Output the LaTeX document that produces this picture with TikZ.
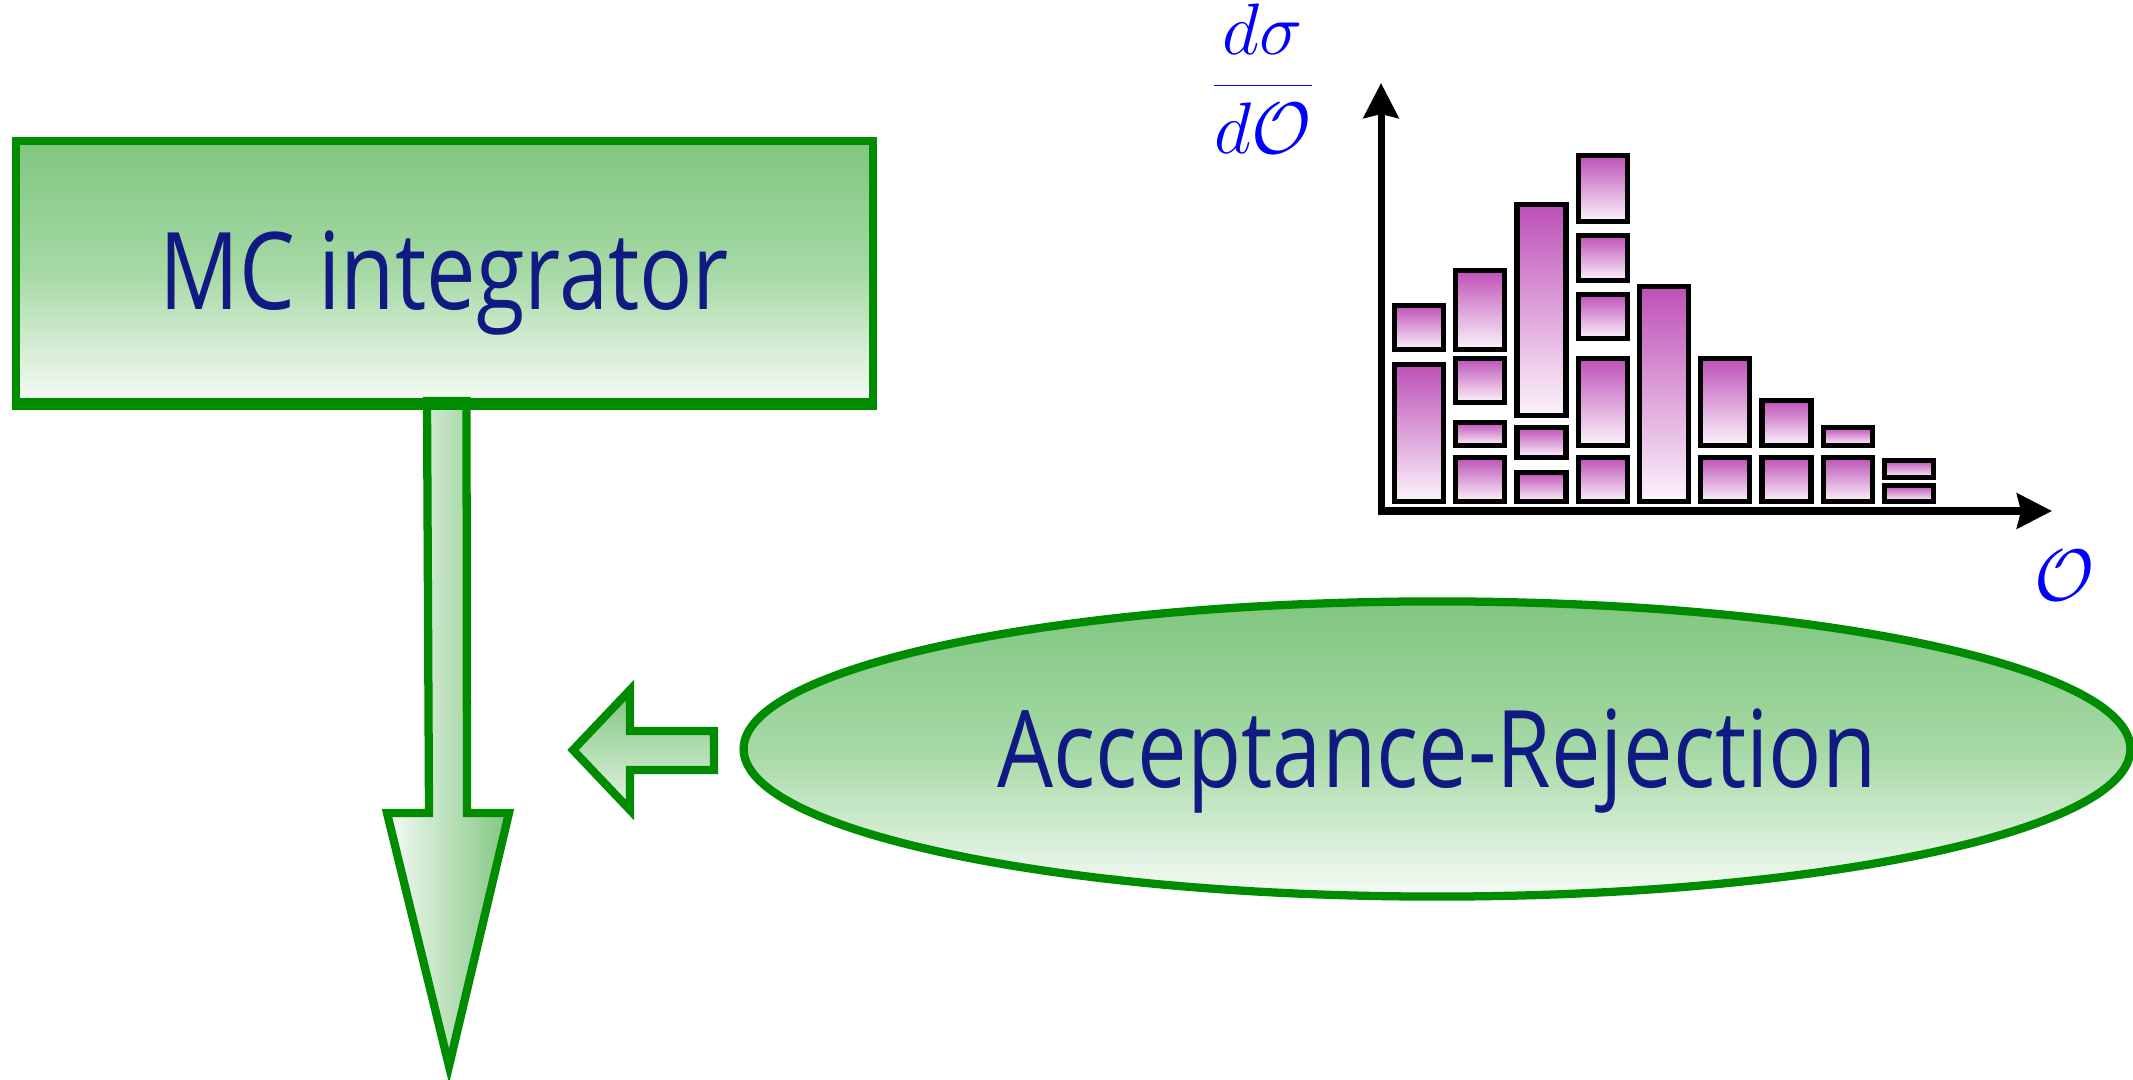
\documentclass[tikz,border=0pt]{standalone}
\usepackage{fontspec}
\setmainfont{Open Sans}[FakeStretch=0.825]
\usetikzlibrary{arrows.meta,shapes.geometric}
\definecolor{gborder}{RGB}{0,140,0}
\definecolor{gtop}{RGB}{128,198,128}
\definecolor{gmid}{RGB}{165,217,165}
\definecolor{gbot}{RGB}{246,251,246}
\definecolor{mtop}{RGB}{190,80,184}
\definecolor{mbot}{RGB}{252,244,251}
\definecolor{txtblue}{RGB}{16,26,130}
\definecolor{mathblue}{RGB}{0,0,255}
\tikzset{
  greenbox/.style={draw=gborder, line width=2.35pt, top color=gtop, bottom color=gbot, middle color=gmid},
  greenarrow/.style={draw=gborder, line width=2.35pt},
  bigtext/.style={text=txtblue, font=\fontsize{30.5}{36}\selectfont, text height=0.766cm, text depth=0pt, inner sep=0pt},
  histbox/.style={draw=black, line width=1.45pt, top color=mtop, bottom color=mbot},
  axisline/.style={draw=black, line width=2pt, -{Stealth[length=0.35cm, width=0.35cm, inset=0.04cm]}},
  mathlabel/.style={text=mathblue, font=\fontsize{20.5}{25}\selectfont, inner sep=0pt}
}
\begin{document}
\begin{tikzpicture}[x=0.01cm, y=-0.01cm]
\useasboundingbox (0,0) rectangle (2133,1080);
% MC integrator box
\node[greenbox, bigtext, rectangle, minimum width=8.57cm, minimum height=2.61cm] (mc) at (444.5,271.5) {MC integrator};
% down arrow
\path[greenarrow, left color=gbot, right color=gtop]
  (427,401) -- (466.5,401) -- (467,813) -- (509,813) -- (449,1066) -- (387,813) -- (429,813) -- cycle;
\draw[gborder, line width=2.35pt] (mc.south west) -- (mc.south east);
% ellipse
\node[greenbox, bigtext, ellipse, minimum width=13.86cm, minimum height=2.95cm] (ar) at (1437,749) {Acceptance-Rejection};
% left arrow
\path[greenarrow, top color=gtop, bottom color=gbot!85!gtop]
  (573,750) -- (630,690) -- (630,731) -- (714,731) -- (714,770) -- (630,770) -- (630,810) -- cycle;
% histogram boxes
\foreach \c/\a/\b in {1/303/352, 1/362/504,
  2/268/352, 2/356/405, 2/420/448, 2/455/504,
  3/202/418, 3/425/460, 3/470/504,
  4/153/224, 4/233/283, 4/292/341, 4/356/448, 4/455/504,
  5/284/504,
  6/356/448, 6/455/504,
  7/398/448, 7/455/504,
  8/425/448, 8/455/504,
  9/458/480, 9/483/504}{
  \pgfmathsetmacro{\xl}{1392+(\c-1)*61.25+2.5}
  \pgfmathsetmacro{\xr}{\xl+49}
  \path[histbox] (\xl,\a+2.5) rectangle (\xr,\b-2.5);
}
% axes
\coordinate (origin) at (1381,511);
\coordinate (ytip) at (1381,83);
\coordinate (xtip) at (2052,511);
\draw[axisline] ([yshift=-1pt]origin) -- (ytip);
\draw[axisline] ([xshift=-1pt]origin) -- (xtip);
% labels
\node[mathlabel] (ylab) at (1263,79) {$\displaystyle\frac{d\sigma}{d\mathcal{O}}$};
\node[mathlabel] (xlab) at (2065,576) {$\mathcal{O}$};
\end{tikzpicture}
\end{document}
